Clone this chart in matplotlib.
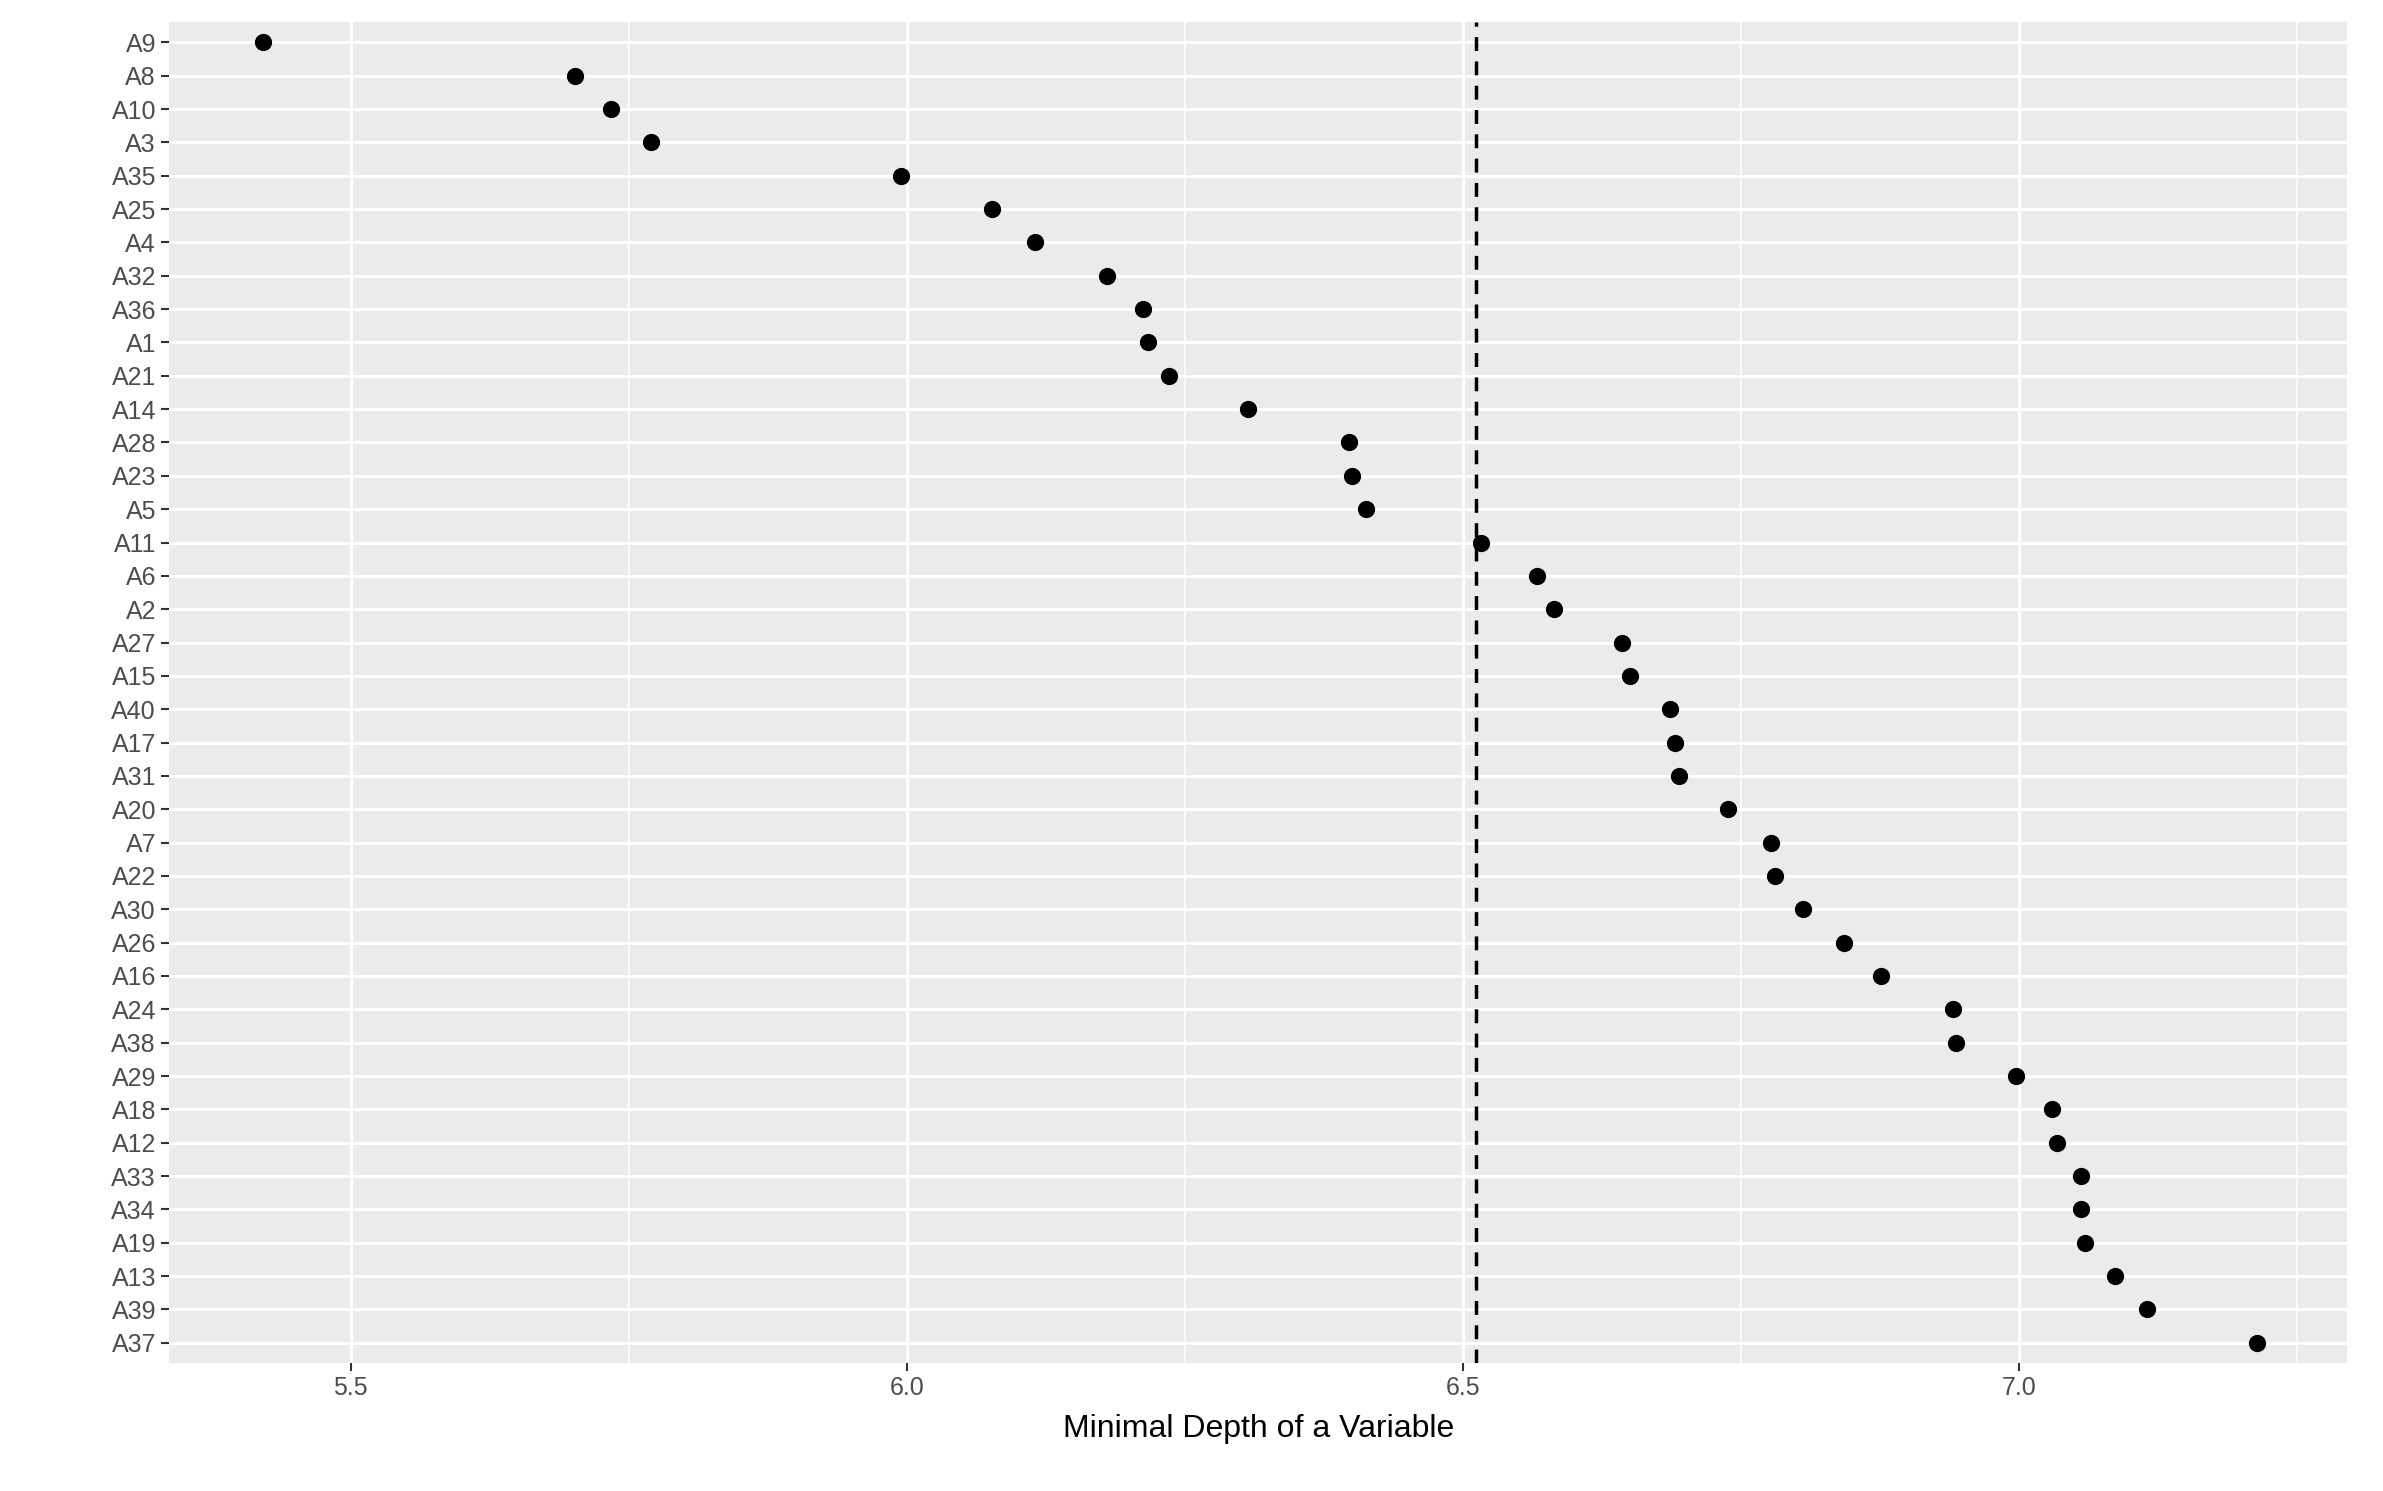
import matplotlib.pyplot as plt
import numpy as np

plt.rcParams['font.family'] = ['Liberation Sans', 'DejaVu Sans']

variables = ['A9', 'A8', 'A10', 'A3', 'A35', 'A25', 'A4', 'A32', 'A36', 'A1',
             'A21', 'A14', 'A28', 'A23', 'A5', 'A11', 'A6', 'A2', 'A27', 'A15',
             'A40', 'A17', 'A31', 'A20', 'A7', 'A22', 'A30', 'A26', 'A16', 'A24',
             'A38', 'A29', 'A18', 'A12', 'A33', 'A34', 'A19', 'A13', 'A39', 'A37']
depth = [5.421, 5.702, 5.734, 5.770, 5.995, 6.077, 6.115, 6.180, 6.212, 6.217,
         6.236, 6.307, 6.398, 6.400, 6.413, 6.516, 6.567, 6.582, 6.643, 6.650,
         6.686, 6.691, 6.694, 6.738, 6.777, 6.781, 6.806, 6.843, 6.876, 6.941,
         6.943, 6.997, 7.030, 7.034, 7.056, 7.056, 7.059, 7.086, 7.115, 7.214]
mean_depth = 6.512

fig = plt.figure(figsize=(23.83, 14.91), dpi=100)
ax = fig.add_axes([0.071, 0.086, 0.914, 0.899])
ax.set_facecolor('#EBEBEB')
for s in ax.spines.values():
    s.set_visible(False)

n = len(variables)
ypos = np.arange(n)[::-1]

ax.set_xticks([5.5, 6.0, 6.5, 7.0])
ax.set_xticks([5.25, 5.75, 6.25, 6.75, 7.25], minor=True)
ax.set_yticks(ypos)
ax.set_yticklabels(variables)
ax.set_xlim(5.337, 7.295)
ax.set_ylim(-0.6, n - 0.4)
ax.grid(True, which='major', color='white', linewidth=2.2)
ax.grid(True, which='minor', axis='x', color='white', linewidth=1.1)
ax.set_axisbelow(True)
ax.tick_params(axis='both', which='major', labelsize=18, colors='#333333',
               length=6, width=1.5, color='#333333')
ax.tick_params(which='minor', length=0)
for lbl in ax.get_xticklabels() + ax.get_yticklabels():
    lbl.set_color('#4D4D4D')

ax.scatter(depth, ypos, s=130, color='black', zorder=3)
ax.axvline(mean_depth, color='black', linestyle=(0, (4, 3)), linewidth=2.5, zorder=2)

ax.set_xlabel('Minimal Depth of a Variable', fontsize=23, labelpad=10)

fig.savefig('out.png', dpi=100)
